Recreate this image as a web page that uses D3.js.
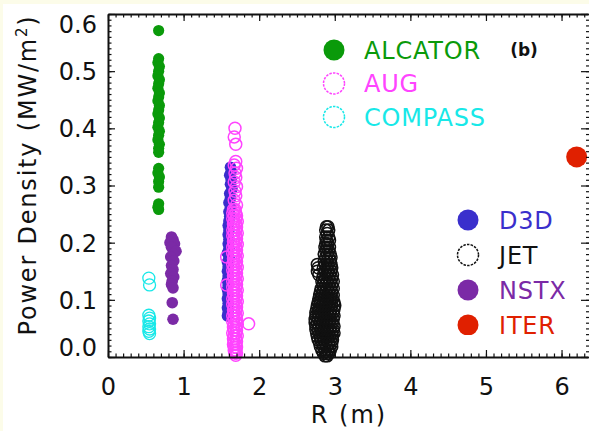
<!DOCTYPE html>
<html>
<head>
<meta charset="utf-8">
<script src="https://cdn.jsdelivr.net/npm/d3@7"></script>
<style>
  body { margin: 0; background: #fcfce9; }
  svg { display: block; font-family: "DejaVu Sans", sans-serif; }
</style>
</head>
<body>
<div id="chart"></div>
<script>
// [R (m), power density (MW/m^2)]
var alcator = [[0.67,0.571],
  [0.67,0.522],[0.66,0.515],[0.68,0.508],[0.67,0.500],[0.66,0.492],[0.68,0.485],[0.67,0.478],[0.66,0.470],
  [0.68,0.462],[0.67,0.455],[0.66,0.448],[0.68,0.440],[0.67,0.432],[0.66,0.425],[0.68,0.418],[0.67,0.410],
  [0.66,0.402],[0.68,0.395],[0.67,0.388],[0.66,0.380],[0.68,0.372],[0.67,0.365],[0.67,0.358],
  [0.67,0.330],[0.66,0.322],[0.68,0.315],[0.67,0.307],[0.67,0.297],
  [0.67,0.268],[0.66,0.262],[0.67,0.258]];
var compass = [[0.54,0.138],[0.55,0.126],[0.54,0.073],[0.55,0.068],[0.54,0.063],[0.55,0.058],
  [0.54,0.053],[0.55,0.049],[0.54,0.045],[0.55,0.041]];
var nstx = [[0.84,0.210],[0.86,0.205],[0.82,0.200],[0.88,0.198],[0.84,0.192],[0.90,0.185],[0.86,0.180],
  [0.83,0.175],[0.87,0.168],[0.84,0.160],[0.86,0.153],[0.83,0.146],[0.87,0.140],[0.85,0.133],[0.84,0.127],
  [0.86,0.121],[0.85,0.095],[0.86,0.066]];
var d3d = [[1.62,0.332],[1.63,0.325],[1.61,0.318],[1.63,0.310],[1.62,0.302],[1.64,0.294],[1.61,0.286],
  [1.62,0.278],[1.60,0.270],[1.62,0.262],[1.60,0.254],[1.61,0.246],[1.60,0.238],[1.59,0.230],[1.60,0.222],
  [1.59,0.214],[1.60,0.206],[1.59,0.198],[1.60,0.190],[1.58,0.182],[1.60,0.174],[1.58,0.166],[1.59,0.158],
  [1.58,0.150],[1.59,0.142],[1.58,0.134],[1.59,0.126],[1.58,0.118],[1.59,0.110],[1.58,0.102],[1.59,0.094],
  [1.58,0.086],[1.59,0.078],[1.58,0.072]];
// dense open-circle columns, one row per power-density level: [P, [R, R, ...]]
var augRows = [[0.400,[1.68]],[0.385,[1.67]],[0.372,[1.69]],
  [0.342,[1.69]],[0.336,[1.67]],[0.330,[1.70]],[0.322,[1.68]],[0.314,[1.69]],[0.306,[1.67]],[0.298,[1.70]],
  [0.290,[1.68]],[0.282,[1.69]],[0.274,[1.67]],[0.266,[1.70]],[0.258,[1.68,1.66]],
  [0.252,[1.65,1.69]],[0.247,[1.67,1.70]],[0.242,[1.65,1.69]],[0.237,[1.67,1.71]],[0.232,[1.66,1.69]],
  [0.227,[1.67,1.70]],[0.222,[1.65,1.69]],[0.217,[1.67,1.71]],[0.212,[1.65,1.69]],[0.207,[1.67,1.70]],
  [0.202,[1.66,1.69]],[0.197,[1.67,1.71]],[0.192,[1.65,1.69]],[0.187,[1.67,1.70]],[0.182,[1.65,1.69]],
  [0.177,[1.67,1.71]],[0.172,[1.66,1.69]],[0.167,[1.67,1.70]],[0.162,[1.65,1.69]],[0.157,[1.67,1.71]],
  [0.152,[1.65,1.69]],[0.147,[1.67,1.70]],[0.142,[1.66,1.69]],[0.137,[1.67,1.71]],[0.132,[1.65,1.69]],
  [0.127,[1.67,1.70]],[0.122,[1.65,1.69]],[0.117,[1.67,1.71]],[0.112,[1.66,1.69]],[0.107,[1.67,1.70]],
  [0.102,[1.65,1.69]],[0.097,[1.67,1.71]],[0.092,[1.65,1.69]],[0.087,[1.67,1.70]],[0.082,[1.66,1.69]],
  [0.077,[1.67,1.71]],[0.072,[1.65,1.69]],[0.067,[1.67,1.70]],[0.062,[1.65,1.69]],[0.057,[1.67,1.71]],
  [0.052,[1.66,1.69]],[0.047,[1.67,1.70]],[0.042,[1.65,1.69]],[0.037,[1.67,1.71]],[0.032,[1.66,1.69]],
  [0.027,[1.67,1.70]],[0.022,[1.66,1.69]],[0.017,[1.67,1.70]],[0.012,[1.67,1.69]],[0.007,[1.68,1.70]],
  [0.003,[1.69]],
  [0.175,[1.57]],[0.126,[1.57]],[0.058,[1.86]]];
var jetRows = [[0.228,[2.89,2.91]],[0.222,[2.88,2.92]],[0.216,[2.90]],[0.210,[2.88,2.92]],
  [0.204,[2.89,2.93]],[0.198,[2.88,2.91]],[0.192,[2.87,2.90,2.93]],[0.186,[2.88,2.92]],
  [0.180,[2.86,2.90,2.94]],[0.174,[2.88,2.92,2.95]],[0.168,[2.86,2.90,2.94]],
  [0.162,[2.77,2.87,2.91,2.95]],[0.156,[2.78,2.85,2.89,2.93,2.96]],[0.150,[2.77,2.87,2.91,2.95]],
  [0.144,[2.79,2.85,2.89,2.93,2.97]],[0.138,[2.84,2.88,2.92,2.96]],[0.132,[2.83,2.86,2.90,2.94,2.98]],
  [0.126,[2.84,2.88,2.92,2.96]],[0.120,[2.82,2.86,2.90,2.94,2.98]],[0.114,[2.81,2.84,2.88,2.92,2.96]],
  [0.108,[2.80,2.83,2.87,2.91,2.95,2.98]],[0.102,[2.79,2.82,2.86,2.90,2.94,2.97]],
  [0.096,[2.78,2.81,2.85,2.89,2.93,2.96,2.99]],[0.090,[2.77,2.80,2.84,2.88,2.92,2.96,3.00]],
  [0.084,[2.76,2.79,2.83,2.87,2.91,2.95,2.99]],[0.078,[2.75,2.78,2.82,2.86,2.90,2.94,2.98]],
  [0.072,[2.75,2.79,2.83,2.87,2.91,2.95,2.99]],[0.066,[2.74,2.78,2.82,2.86,2.90,2.94,2.98]],
  [0.060,[2.74,2.77,2.81,2.85,2.89,2.93,2.97]],[0.054,[2.75,2.79,2.83,2.87,2.91,2.95,2.99]],
  [0.048,[2.75,2.78,2.82,2.86,2.90,2.94,2.98]],[0.042,[2.76,2.80,2.84,2.88,2.92,2.96,2.99]],
  [0.036,[2.77,2.81,2.85,2.89,2.93,2.97]],[0.030,[2.78,2.82,2.86,2.90,2.94,2.97]],
  [0.024,[2.80,2.84,2.88,2.92,2.96]],[0.018,[2.81,2.85,2.89,2.93,2.96]],
  [0.012,[2.83,2.87,2.91,2.94]],[0.006,[2.85,2.89,2.92]],[0.002,[2.87,2.90]]];
var iter = [[6.20,0.350]];

var xTicks = [0, 1, 2, 3, 4, 5, 6];
var yTicks = [0, 0.1, 0.2, 0.3, 0.4, 0.5, 0.6];

var legendTop = [
  {name: "ALCATOR", color: "#0a9a0a", filled: true},
  {name: "AUG", color: "#ff44ff", filled: false},
  {name: "COMPASS", color: "#18e8e8", filled: false}];
var legendBottom = [
  {name: "D3D", color: "#3a2fcc", filled: true},
  {name: "JET", color: "#111111", filled: false},
  {name: "NSTX", color: "#7b2aa6", filled: true},
  {name: "ITER", color: "#e02000", filled: true}];

function fromRows(rows) {
  var out = [];
  rows.forEach(function (r) {
    r[1].forEach(function (R) { out.push([R, r[0]]); });
  });
  return out;
}
var aug = fromRows(augRows);
var jet = fromRows(jetRows);

var W = 589, H = 431;
var svg = d3.select("#chart").append("svg").attr("width", W).attr("height", H);

// white panel with a thin cream border at top-left
svg.append("rect").attr("x", 3).attr("y", 4).attr("width", W - 3).attr("height", H - 4).attr("fill", "#fff");

var x = d3.scaleLinear().domain([0, 6.35]).range([108, 588]);
var y = d3.scaleLinear().domain([0, 0.6]).range([357, 14]);

function drawSeries(data, color, filled, r, sw) {
  var g = svg.append("g");
  g.selectAll("circle").data(data).enter().append("circle")
    .attr("cx", function (d) { return x(d[0]); })
    .attr("cy", function (d) { return y(d[1]); })
    .attr("r", r)
    .attr("fill", filled ? color : "none")
    .attr("stroke", filled ? "none" : color)
    .attr("stroke-width", sw);
}

drawSeries(alcator, "#0a9a0a", true, 5.6, 0);
drawSeries(compass, "#18e8e8", false, 6, 1.3);
drawSeries(nstx, "#7b2aa6", true, 5.8, 0);
drawSeries(d3d, "#3a2fcc", true, 5.8, 0);
drawSeries(aug, "#ff44ff", false, 6, 1.5);
drawSeries(jet, "#111111", false, 6, 1.5);
drawSeries(iter, "#e02000", true, 10.5, 0);

// axes: ticks point inward on all four sides
var xMinor = d3.range(0, 64).map(function (i) { return i / 10; });
var yMinor = d3.range(0, 61).map(function (i) { return i / 100; });

function styleAxis(g) {
  g.selectAll("line").attr("stroke", "#111").attr("stroke-width", 1.2);
  g.selectAll(".domain").attr("stroke", "#111").attr("stroke-width", 2);
}

svg.append("g").attr("transform", "translate(0,357)")
  .call(d3.axisBottom(x).tickValues(xMinor).tickSize(-3.5).tickSizeOuter(0).tickFormat(""))
  .call(styleAxis);
var xb = svg.append("g").attr("transform", "translate(0,357)")
  .call(d3.axisBottom(x).tickValues(xTicks).tickSize(-7).tickSizeOuter(0).tickPadding(21).tickFormat(d3.format("d")))
  .call(styleAxis);
xb.select(".domain").remove();
xb.selectAll("text").attr("font-size", 24).attr("fill", "#111").attr("font-family", "DejaVu Sans");

svg.append("g").attr("transform", "translate(0,14)")
  .call(d3.axisTop(x).tickValues(xMinor).tickSize(-3.5).tickSizeOuter(0).tickFormat(""))
  .call(styleAxis);
svg.append("g").attr("transform", "translate(0,14)")
  .call(d3.axisTop(x).tickValues(xTicks).tickSize(-7).tickSizeOuter(0).tickFormat(""))
  .call(styleAxis).select(".domain").remove();

svg.append("g").attr("transform", "translate(108,0)")
  .call(d3.axisLeft(y).tickValues(yMinor).tickSize(-3.5).tickSizeOuter(0).tickFormat(""))
  .call(styleAxis);
var yl = svg.append("g").attr("transform", "translate(108,0)")
  .call(d3.axisLeft(y).tickValues(yTicks).tickSize(-7).tickSizeOuter(0).tickPadding(11).tickFormat(d3.format(".1f")))
  .call(styleAxis);
yl.select(".domain").remove();
yl.selectAll("text").attr("font-size", 24).attr("fill", "#111").attr("font-family", "DejaVu Sans")
  .attr("dy", function (d) { return d == 0.6 ? "0.75em" : (d == 0 ? "-0.05em" : "0.35em"); });

var yr = svg.append("g").attr("transform", "translate(589,0)")
  .call(d3.axisRight(y).tickValues(yMinor).tickSize(-3).tickSizeOuter(0).tickFormat(""))
  .call(styleAxis);
yr.select(".domain").remove();
var yr2 = svg.append("g").attr("transform", "translate(589,0)")
  .call(d3.axisRight(y).tickValues(yTicks).tickSize(-8).tickSizeOuter(0).tickFormat(""))
  .call(styleAxis);
yr2.select(".domain").remove();

// axis titles
svg.append("text")
  .attr("x", 349).attr("y", 415).attr("dy", "0.35em")
  .attr("text-anchor", "middle").attr("font-size", 24).attr("letter-spacing", 2).attr("fill", "#111")
  .text("R (m)");

var yt = svg.append("text")
  .attr("transform", "translate(28,175) rotate(-90)")
  .attr("dy", "0.35em")
  .attr("text-anchor", "middle").attr("font-size", 24).attr("letter-spacing", 1.8).attr("fill", "#111");
yt.append("tspan").text("Power Density (MW/m");
yt.append("tspan").attr("baseline-shift", "super").attr("font-size", 15).text("2");
yt.append("tspan").text(")");

// legends
function drawLegend(items, cx, tx, y0, dy, g) {
  items.forEach(function (it, i) {
    var cy = y0 + i * dy;
    g.append("circle").attr("cx", cx).attr("cy", cy).attr("r", 10.5)
      .attr("fill", it.filled ? it.color : "none")
      .attr("stroke", it.filled ? "none" : it.color)
      .attr("stroke-width", 1.5)
      .attr("stroke-dasharray", it.filled ? null : "2.5,1.2");
    g.append("text").attr("x", tx).attr("y", cy).attr("dy", "0.36em")
      .attr("font-size", 24).attr("letter-spacing", 0.8).attr("fill", it.color).text(it.name);
  });
}

drawLegend(legendTop, 334, 364, 50, 33.5, svg.append("g"));

svg.append("clipPath").attr("id", "legclip").append("rect")
  .attr("x", 440).attr("y", 195).attr("width", 127).attr("height", 140);
drawLegend(legendBottom, 468, 499, 220, 35, svg.append("g").attr("clip-path", "url(#legclip)"));

svg.append("text").attr("x", 524).attr("y", 50).attr("dy", "0.35em")
  .attr("text-anchor", "middle").attr("font-size", 17).attr("font-weight", "bold").attr("fill", "#111")
  .text("(b)");
</script>
</body>
</html>
